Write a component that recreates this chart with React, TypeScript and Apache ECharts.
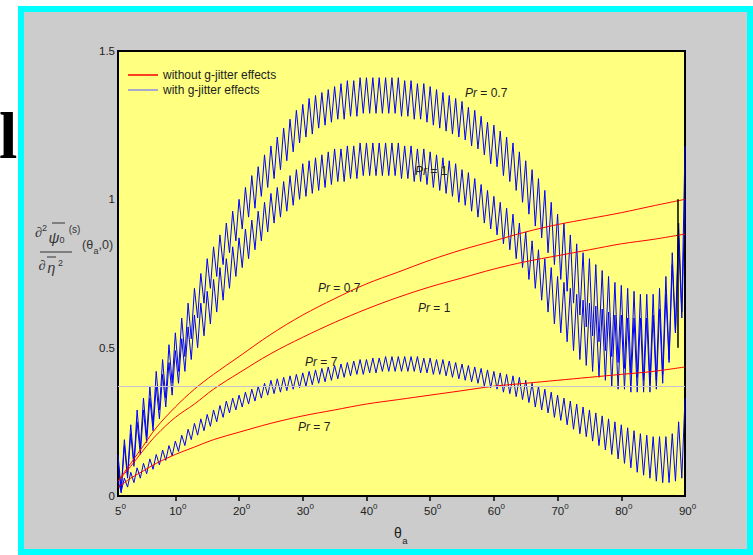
import React, { useEffect, useRef } from 'react';
import * as echarts from 'echarts';

const FONT = "'Liberation Sans', Arial, sans-serif";
const SERIF = "'Liberation Serif', 'Times New Roman', serif";

// x axis: angle theta_a (degrees); the leftmost label reads "5" in the original
const X_MIN = 1;
const X_MAX = 90;
const X_TICKS = [10, 20, 30, 40, 50, 60, 70, 80];
const X_LABEL_VALUES = [1, 10, 20, 30, 40, 50, 60, 70, 80, 90];
const X_LABEL_TEXT = ['5', '10', '20', '30', '40', '50', '60', '70', '80', '90'];
const Y_MIN = 0;
const Y_MAX = 1.5;
const Y_INTERVAL = 0.5;

// without g-jitter effects (smooth curves)
const redTheta = [1, 2, 3, 5, 7, 10, 13, 16, 20, 25, 30, 35, 40, 45, 50, 55, 60, 65, 70, 75, 80, 85, 90];
const redPr07 = [0.05, 0.08, 0.11, 0.17, 0.23, 0.30, 0.36, 0.41, 0.47, 0.545, 0.61, 0.665, 0.715, 0.755, 0.795, 0.83, 0.86, 0.89, 0.915, 0.935, 0.955, 0.978, 1.0];
const redPr1 = [0.05, 0.075, 0.10, 0.155, 0.205, 0.265, 0.31, 0.36, 0.415, 0.48, 0.535, 0.585, 0.63, 0.67, 0.705, 0.735, 0.765, 0.79, 0.81, 0.83, 0.85, 0.865, 0.883];
const redPr7 = [0.03, 0.045, 0.06, 0.085, 0.11, 0.14, 0.165, 0.19, 0.215, 0.245, 0.27, 0.29, 0.31, 0.325, 0.34, 0.355, 0.37, 0.38, 0.39, 0.40, 0.41, 0.42, 0.435];

// with g-jitter effects: peaks at theta = 1..89, troughs at theta = 1.5..89.5, last value at 90
const JITTER_START = 1;
const JITTER_STEP = 1;
const bluePr07Peaks = [
  0.14, 0.19, 0.24, 0.29, 0.33, 0.37, 0.42, 0.46, 0.51, 0.55,
  0.60, 0.65, 0.70, 0.75, 0.80, 0.84, 0.88, 0.92, 0.96, 1.00,
  1.04, 1.08, 1.11, 1.15, 1.18, 1.21, 1.24, 1.27, 1.30, 1.32,
  1.34, 1.35, 1.36, 1.37, 1.38, 1.39, 1.40, 1.40, 1.41, 1.41,
  1.41, 1.41, 1.41, 1.41, 1.41, 1.40, 1.40, 1.39, 1.39, 1.38,
  1.37, 1.36, 1.35, 1.34, 1.33, 1.31, 1.30, 1.28, 1.26, 1.25,
  1.23, 1.21, 1.19, 1.16, 1.13, 1.10, 1.07, 1.03, 0.99, 0.95,
  0.92, 0.88, 0.85, 0.82, 0.80, 0.78, 0.76, 0.74, 0.72, 0.71,
  0.70, 0.69, 0.68, 0.68, 0.68, 0.70, 0.74, 0.82, 0.92,
];
const bluePr07Troughs = [
  0.02, 0.07, 0.11, 0.16, 0.20, 0.24, 0.29, 0.33, 0.38, 0.42,
  0.47, 0.53, 0.60, 0.65, 0.70, 0.74, 0.78, 0.82, 0.86, 0.90,
  0.94, 0.97, 1.01, 1.04, 1.07, 1.10, 1.13, 1.16, 1.19, 1.21,
  1.22, 1.24, 1.25, 1.26, 1.27, 1.27, 1.28, 1.28, 1.29, 1.29,
  1.29, 1.29, 1.29, 1.29, 1.28, 1.28, 1.27, 1.27, 1.26, 1.25,
  1.24, 1.23, 1.22, 1.21, 1.20, 1.18, 1.17, 1.15, 1.12, 1.11,
  1.08, 1.06, 1.03, 0.99, 0.95, 0.91, 0.87, 0.82, 0.78, 0.73,
  0.69, 0.65, 0.61, 0.57, 0.54, 0.52, 0.49, 0.47, 0.45, 0.43,
  0.41, 0.40, 0.39, 0.38, 0.39, 0.41, 0.46, 0.55, 0.62,
];
const bluePr07End = 1.18;

const bluePr1Peaks = [
  0.12, 0.17, 0.21, 0.25, 0.29, 0.33, 0.37, 0.41, 0.45, 0.49,
  0.53, 0.57, 0.61, 0.65, 0.69, 0.73, 0.77, 0.80, 0.84, 0.87,
  0.90, 0.93, 0.96, 0.99, 1.02, 1.04, 1.06, 1.08, 1.10, 1.12,
  1.13, 1.14, 1.15, 1.16, 1.17, 1.17, 1.18, 1.18, 1.19, 1.19,
  1.19, 1.19, 1.19, 1.19, 1.19, 1.18, 1.18, 1.17, 1.17, 1.16,
  1.15, 1.14, 1.13, 1.12, 1.10, 1.09, 1.07, 1.05, 1.03, 1.01,
  0.99, 0.97, 0.95, 0.92, 0.89, 0.86, 0.83, 0.80, 0.77, 0.74,
  0.72, 0.70, 0.68, 0.66, 0.65, 0.64, 0.63, 0.62, 0.61, 0.61,
  0.60, 0.60, 0.60, 0.60, 0.61, 0.63, 0.68, 0.78, 0.87,
];
const bluePr1Troughs = [
  0.01, 0.06, 0.10, 0.14, 0.18, 0.22, 0.26, 0.30, 0.34, 0.38,
  0.42, 0.46, 0.50, 0.54, 0.58, 0.62, 0.66, 0.70, 0.74, 0.77,
  0.80, 0.83, 0.86, 0.89, 0.92, 0.94, 0.96, 0.98, 1.00, 1.01,
  1.02, 1.03, 1.04, 1.05, 1.06, 1.06, 1.07, 1.07, 1.08, 1.08,
  1.08, 1.08, 1.08, 1.08, 1.07, 1.07, 1.06, 1.06, 1.05, 1.04,
  1.03, 1.02, 1.01, 0.99, 0.98, 0.96, 0.94, 0.92, 0.90, 0.88,
  0.85, 0.83, 0.80, 0.77, 0.73, 0.70, 0.66, 0.62, 0.58, 0.55,
  0.52, 0.49, 0.46, 0.44, 0.42, 0.40, 0.39, 0.37, 0.36, 0.36,
  0.35, 0.35, 0.35, 0.35, 0.36, 0.38, 0.45, 0.55, 0.60,
];
const bluePr1End = 1.0;

const bluePr7Peaks = [
  0.05, 0.06, 0.08, 0.095, 0.11, 0.125, 0.14, 0.155, 0.17, 0.185,
  0.205, 0.225, 0.245, 0.26, 0.275, 0.29, 0.305, 0.32, 0.33, 0.34,
  0.35, 0.36, 0.37, 0.38, 0.39, 0.395, 0.40, 0.405, 0.41, 0.415,
  0.42, 0.425, 0.43, 0.435, 0.44, 0.445, 0.45, 0.455, 0.46, 0.46,
  0.465, 0.465, 0.47, 0.47, 0.47, 0.47, 0.47, 0.47, 0.465, 0.465,
  0.46, 0.46, 0.455, 0.45, 0.445, 0.44, 0.435, 0.43, 0.425, 0.42,
  0.415, 0.41, 0.405, 0.40, 0.39, 0.38, 0.37, 0.36, 0.35, 0.34,
  0.33, 0.32, 0.31, 0.30, 0.29, 0.28, 0.27, 0.26, 0.25, 0.24,
  0.23, 0.22, 0.21, 0.205, 0.20, 0.20, 0.20, 0.21, 0.25,
];
const bluePr7Troughs = [
  0.015, 0.03, 0.045, 0.06, 0.075, 0.09, 0.105, 0.12, 0.135, 0.15,
  0.17, 0.19, 0.205, 0.22, 0.235, 0.25, 0.265, 0.28, 0.29, 0.30,
  0.31, 0.32, 0.33, 0.34, 0.345, 0.35, 0.355, 0.36, 0.365, 0.37,
  0.375, 0.38, 0.385, 0.39, 0.395, 0.40, 0.405, 0.41, 0.41, 0.415,
  0.415, 0.42, 0.42, 0.42, 0.42, 0.42, 0.42, 0.415, 0.415, 0.41,
  0.41, 0.405, 0.40, 0.395, 0.39, 0.385, 0.38, 0.37, 0.365, 0.36,
  0.35, 0.345, 0.335, 0.325, 0.315, 0.30, 0.29, 0.28, 0.265, 0.255,
  0.24, 0.225, 0.21, 0.20, 0.185, 0.17, 0.155, 0.14, 0.125, 0.11,
  0.095, 0.08, 0.07, 0.06, 0.05, 0.045, 0.045, 0.05, 0.06,
];
const bluePr7End = 0.33;

// thin grey reference line and a short black vertical segment near the right edge
const refLineValue = 0.367;
const segmentTheta = 88.9;
const segmentValues = [0.5, 1.0];

const LEGEND_RED = 'without g-jitter effects';
const LEGEND_BLUE = 'with g-jitter effects';

function zigzag(peaks: number[], troughs: number[], endVal: number) {
  const pts: number[][] = [];
  for (let i = 0; i < peaks.length; i++) {
    pts.push([JITTER_START + i * JITTER_STEP, peaks[i]]);
    if (i < troughs.length) pts.push([JITTER_START + (i + 0.5) * JITTER_STEP, troughs[i]]);
  }
  pts.push([X_MAX, endVal]);
  return pts;
}

function pairs(xs: number[], ys: number[]) {
  return xs.map((x, i) => [x, ys[i]]);
}

export default function App() {
  const ref = useRef<HTMLDivElement>(null);

  useEffect(() => {
    if (!ref.current) return;
    const chart = echarts.init(ref.current, null, { renderer: 'svg' });

    const tick = { color: '#000', width: 1.5 };
    const redLine = (name: string, ys: number[]) => ({
      name,
      type: 'line',
      data: pairs(redTheta, ys),
      smooth: 0.35,
      showSymbol: false,
      symbol: 'none',
      lineStyle: { color: '#ff0000', width: 1 },
      itemStyle: { color: '#ff0000' },
      z: 4,
      silent: true,
    });
    const blueLine = (name: string, data: number[][]) => ({
      name,
      type: 'line',
      data,
      showSymbol: false,
      symbol: 'none',
      lineStyle: { color: '#0000ff', width: 1 },
      itemStyle: { color: '#0000ff' },
      z: 3,
      silent: true,
    });

    const label = (x: number, y: number, val: string) => ({
      type: 'text',
      x,
      y,
      style: {
        text: `{i|Pr}{n| = ${val}}`,
        textAlign: 'left',
        textVerticalAlign: 'middle',
        rich: {
          i: { fontStyle: 'italic', fontSize: 12, fontFamily: FONT, fill: '#222' },
          n: { fontSize: 12, fontFamily: FONT, fill: '#222' },
        },
      },
      z: 10,
    });
    const t = (x: number, y: number, text: string, size: number, opts: any = {}) => ({
      type: 'text',
      x,
      y,
      style: {
        text,
        fontSize: size,
        fontFamily: opts.family || FONT,
        fontStyle: opts.italic ? 'italic' : 'normal',
        fontWeight: opts.bold ? 'bold' : 'normal',
        fill: opts.color || '#333',
        textAlign: opts.align || 'center',
        textVerticalAlign: 'middle',
      },
      z: 10,
    });
    const ln = (x1: number, y1: number, x2: number, y2: number) => ({
      type: 'line',
      shape: { x1, y1, x2, y2 },
      style: { stroke: '#333', lineWidth: 1 },
      z: 10,
    });

    chart.setOption({
      animation: false,
      backgroundColor: 'transparent',
      grid: {
        left: 118,
        top: 51,
        width: 567,
        height: 445,
        show: true,
        backgroundColor: '#ffff80',
        borderColor: '#000',
        borderWidth: 2,
        z: 2,
      },
      legend: {
        show: true,
        orient: 'vertical',
        left: 123,
        top: 64,
        icon: 'rect',
        itemWidth: 30,
        itemHeight: 1.5,
        itemGap: 3,
        selectedMode: false,
        textStyle: { fontSize: 12, color: '#222', fontFamily: FONT },
        data: [
          { name: LEGEND_RED, itemStyle: { color: '#ff0000' } },
          { name: LEGEND_BLUE, itemStyle: { color: '#8c8ce6' } },
        ],
      },
      xAxis: [
        {
          type: 'value',
          min: X_MIN,
          max: X_MAX,
          position: 'bottom',
          axisLine: { show: false },
          splitLine: { show: false },
          axisTick: { show: true, inside: true, length: 5, lineStyle: tick, customValues: X_TICKS },
          axisLabel: {
            show: true,
            customValues: X_LABEL_VALUES,
            margin: 8,
            formatter: (v: number) => {
              const i = X_LABEL_VALUES.indexOf(v);
              return `{n|${i >= 0 ? X_LABEL_TEXT[i] : v}}{s|0}`;
            },
            rich: {
              n: { fontSize: 11.5, fontFamily: FONT, color: '#222', lineHeight: 14, padding: [0, 0, 0, 5] },
              s: { fontSize: 8, fontFamily: FONT, color: '#222', lineHeight: 9, padding: [0, 0, 10, 0] },
            },
          },
        },
        {
          type: 'value',
          min: X_MIN,
          max: X_MAX,
          position: 'top',
          axisLine: { show: false },
          splitLine: { show: false },
          axisTick: { show: true, inside: true, length: 5, lineStyle: tick, customValues: X_TICKS },
          axisLabel: { show: false },
        },
      ],
      yAxis: [
        {
          type: 'value',
          min: Y_MIN,
          max: Y_MAX,
          interval: Y_INTERVAL,
          position: 'left',
          axisLine: { show: false },
          splitLine: { show: false },
          axisTick: { show: true, inside: true, length: 6, lineStyle: tick },
          axisLabel: { show: true, margin: 3, fontSize: 11.5, color: '#222', fontFamily: FONT },
        },
        {
          type: 'value',
          min: Y_MIN,
          max: Y_MAX,
          interval: Y_INTERVAL,
          position: 'right',
          axisLine: { show: false },
          splitLine: { show: false },
          axisTick: { show: true, inside: true, length: 7, lineStyle: tick },
          axisLabel: { show: false },
        },
      ],
      series: [
        {
          ...redLine(LEGEND_RED, redPr07),
          markLine: {
            silent: true,
            symbol: 'none',
            label: { show: false },
            lineStyle: { color: '#c4c4d4', width: 1, type: 'solid' },
            data: [{ yAxis: refLineValue }],
          },
        },
        redLine(LEGEND_RED, redPr1),
        redLine(LEGEND_RED, redPr7),
        blueLine(LEGEND_BLUE, zigzag(bluePr07Peaks, bluePr07Troughs, bluePr07End)),
        blueLine(LEGEND_BLUE, zigzag(bluePr1Peaks, bluePr1Troughs, bluePr1End)),
        blueLine(LEGEND_BLUE, zigzag(bluePr7Peaks, bluePr7Troughs, bluePr7End)),
        {
          name: 'segment',
          type: 'line',
          data: segmentValues.map((v) => [segmentTheta, v]),
          showSymbol: false,
          symbol: 'none',
          lineStyle: { color: '#000', width: 1.5 },
          z: 5,
          silent: true,
        },
      ],
      graphic: [
        // cut-off large serif letter at the far left
        t(-1, 135, 'l', 66, { family: SERIF, bold: true, color: '#000', align: 'left' }),
        // curve labels
        label(465, 93, '0.7'),
        label(415, 171, '1'),
        label(318, 288, '0.7'),
        label(418, 308, '1'),
        label(305, 362, '7'),
        label(298, 427, '7'),
        // y-axis title: d^2 psi0^(s) / d eta^2 (theta_a, 0)
        t(38.5, 232.5, '∂', 14, { family: SERIF }),
        t(44.5, 227.5, '2', 9),
        t(54, 237, 'ψ', 15, { italic: true }),
        ln(52, 223, 65, 223),
        t(62, 240, '0', 9),
        t(74.5, 229, '(s)', 10),
        ln(40, 252, 72, 252),
        t(42, 265.5, '∂', 14, { family: SERIF }),
        t(51.5, 268, 'η', 14, { italic: true }),
        ln(47, 257, 56, 257),
        t(60.5, 262.5, '2', 9),
        t(82, 245, '(θ', 12.5, { align: 'left' }),
        t(96, 250.5, 'a', 9),
        t(98.5, 245, ',0)', 12.5, { align: 'left' }),
        // x-axis title theta_a
        t(398, 533, 'θ', 14, { color: '#222' }),
        t(405, 540, 'a', 9.5, { color: '#222' }),
      ],
    });

    return () => chart.dispose();
  }, []);

  return (
    <div style={{ position: 'fixed', left: 0, top: 0, width: 753, height: 555, background: '#ffffff', overflow: 'hidden' }}>
      <div
        style={{
          position: 'absolute',
          left: 18,
          top: 6,
          width: 735,
          height: 549,
          boxSizing: 'border-box',
          border: '6px solid #00ffff',
          background: '#cccccc',
        }}
      />
      <div ref={ref} style={{ position: 'absolute', left: 0, top: 0, width: 753, height: 555 }} />
    </div>
  );
}
